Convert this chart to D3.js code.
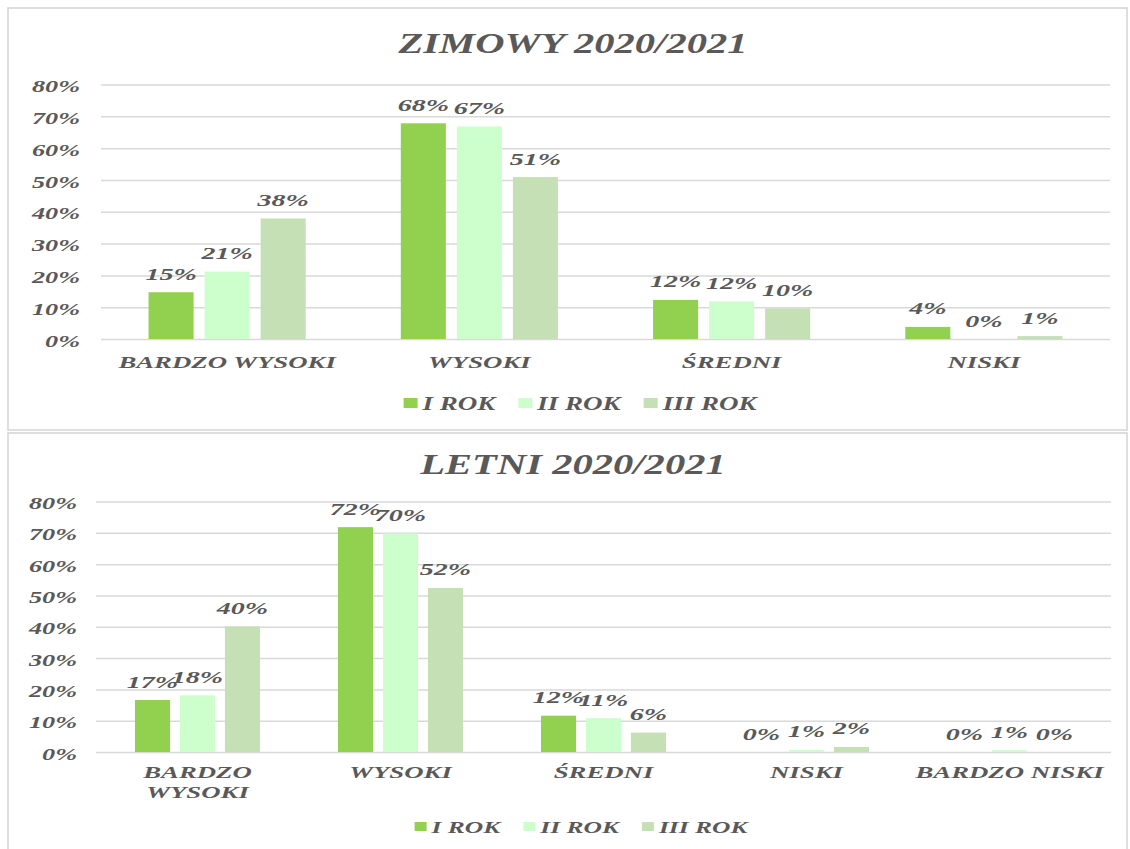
<!DOCTYPE html>
<html lang="pl">
<head>
  <meta charset="UTF-8">
  <title>ZIMOWY / LETNI 2020/2021</title>
  <script src="https://cdn.jsdelivr.net/npm/d3@7"></script>
  <style>
    html, body { margin: 0; padding: 0; background: #fff; }
    svg text {
      font-family: "Liberation Serif", "Times New Roman", serif;
      font-weight: bold;
      font-style: italic;
      fill: #595959;
    }
  </style>
</head>
<body>

  <script>
    ((window, document) => {
      "use strict";


      /**
       * -----------------------------------------------------------------------
       *  Data
       * -----------------------------------------------------------------------
       */

      const series = ["I ROK", "II ROK", "III ROK"];
      const yTicks = [0, 10, 20, 30, 40, 50, 60, 70, 80];

      // ZIMOWY 2020/2021 (values in %)
      const zimaCategories = ["BARDZO WYSOKI", "WYSOKI", "ŚREDNI", "NISKI"];
      const zimaI   = [14.7, 67.8, 12.3, 3.8];
      const zimaII  = [21.2, 66.8, 11.8, 0];
      const zimaIII = [37.9, 50.9, 9.6, 0.9];

      // LETNI 2020/2021 (values in %)
      const letniCategories = ["BARDZO WYSOKI", "WYSOKI", "ŚREDNI", "NISKI", "BARDZO NISKI"];
      const letniI   = [16.6, 71.8, 11.6, 0, 0];
      const letniII  = [18.1, 69.8, 10.8, 0.7, 0.6];
      const letniIII = [40.1, 52.4, 6.2, 1.6, 0];


      /**
       * -----------------------------------------------------------------------
       *  Render
       * -----------------------------------------------------------------------
       */

      const colors = ["#92d050", "#ccffcc", "#c5e0b4"];

      let svg = d3.select("body").append("svg")
        .attr("width", 1130).attr("height", 849);

      // the source picture is stretched sideways, so every text gets a scale
      function place (sel, x, y, sx) {
        return sel.attr("transform", `translate(${x},${y}) scale(${sx},1)`);
      }

      function drawChart (cfg) {
        let g = svg.append("g");

        g.append("rect")
            .attr("x", cfg.box[0]).attr("y", cfg.box[1])
            .attr("width", cfg.box[2]).attr("height", cfg.box[3])
            .attr("fill", "#fff").attr("stroke", "#d4d4d4").attr("stroke-width", 1.5);

        place(g.append("text"), cfg.titleX, cfg.titleY, 1.4)
            .attr("text-anchor", "middle")
            .style("font-size", "29px")
            .text(cfg.title);

        let x0 = d3.scaleBand()
          .domain(cfg.categories)
          .range([cfg.left, cfg.right])
          .paddingInner(cfg.groupPad).paddingOuter(cfg.groupPad / 2);

        let x1 = d3.scaleBand()
          .domain(series)
          .range([0, x0.bandwidth()])
          .paddingInner(cfg.barPad);

        let y = d3.scaleLinear().domain([0, 80]).range([cfg.bottom, cfg.top]);

        // grid + y labels
        let axis = g.append("g")
            .attr("transform", `translate(${cfg.left},0)`)
            .call(d3.axisLeft(y)
              .tickValues(yTicks)
              .tickSize(-(cfg.right - cfg.left))
              .tickFormat(d => d + "%"));
        axis.select(".domain").remove();
        axis.selectAll(".tick line").attr("stroke", "#d9d9d9").attr("stroke-width", 1.5);
        axis.selectAll(".tick text")
            .attr("x", null).attr("dy", "0.35em")
            .attr("text-anchor", "end")
            .style("font-size", "17.5px")
            .each((d, i, n) => place(d3.select(n[i]), -cfg.tickGap, 1, 1.5));

        // bars
        let rows = cfg.categories.map((c, i) => ({
          cat: c,
          vals: series.map((s, j) => ({ s: s, v: cfg.values[j][i], color: colors[j] }))
        }));

        let groups = g.selectAll("g.cat")
          .data(rows)
          .enter().append("g")
            .attr("class", "cat")
            .attr("transform", d => `translate(${x0(d.cat)},0)`);

        groups.selectAll("rect")
          .data(d => d.vals)
          .enter().append("rect")
            .attr("x", d => x1(d.s))
            .attr("y", d => y(d.v))
            .attr("width", x1.bandwidth())
            .attr("height", d => cfg.bottom - y(d.v))
            .attr("fill", d => d.color);

        groups.selectAll("text.val")
          .data(d => d.vals)
          .enter().append("text")
            .attr("class", "val")
            .attr("text-anchor", "middle")
            .style("font-size", "17px")
            .text(d => Math.round(d.v) + "%")
            .each((d, i, n) => place(d3.select(n[i]), x1(d.s) + x1.bandwidth() / 2, y(d.v) - 12.5, 1.65));

        // category labels, wrapped when wider than the band
        const catSx = 1.53;
        g.selectAll("text.cat")
          .data(cfg.categories)
          .enter().append("text")
            .attr("class", "cat")
            .attr("text-anchor", "middle")
            .style("font-size", "17.5px")
            .each((d, i, n) => {
              let t = d3.select(n[i]);
              place(t, x0(d) + x0.bandwidth() / 2, cfg.bottom + cfg.catGap, catSx);
              t.text(d);
              if (n[i].getComputedTextLength() * catSx > x0.step()) {
                t.text(null);
                d.split(" ").forEach((w, k) => {
                  t.append("tspan").attr("x", 0).attr("dy", k ? 20 : 0).text(w);
                });
              }
            });

        // legend
        let legend = g.append("g");
        let cursor = 0;
        series.forEach((s, j) => {
          legend.append("rect")
              .attr("x", cursor).attr("y", -cfg.legendSq[1] - 2)
              .attr("width", cfg.legendSq[0]).attr("height", cfg.legendSq[1])
              .attr("fill", colors[j]);
          cursor += cfg.legendSq[0] + 5;
          let t = place(legend.append("text"), cursor, 0, 1.5)
              .style("font-size", cfg.legendFont + "px")
              .text(s);
          cursor += t.node().getComputedTextLength() * 1.5;
          if (j < series.length - 1) cursor += 23;
        });
        legend.attr("transform", `translate(${cfg.legendCx - cursor / 2},${cfg.legendY})`);
      }


      /**
       * -----------------------------------------------------------------------
       *  Main
       * -----------------------------------------------------------------------
       */

      drawChart({
        box: [8, 8, 1119, 422],
        title: "ZIMOWY 2020/2021", titleX: 573, titleY: 53,
        categories: zimaCategories,
        values: [zimaI, zimaII, zimaIII],
        left: 101, right: 1110, top: 84.5, bottom: 339,
        groupPad: 0.377, barPad: 0.196,
        tickGap: 21, catGap: 29,
        legendCx: 580, legendY: 410, legendSq: [14, 10], legendFont: 18
      });

      drawChart({
        box: [8, 433, 1119, 430],
        title: "LETNI 2020/2021", titleX: 573, titleY: 474,
        categories: letniCategories,
        values: [letniI, letniII, letniIII],
        left: 96, right: 1111, top: 501.5, bottom: 752,
        groupPad: 0.384, barPad: 0.22,
        tickGap: 19, catGap: 26,
        legendCx: 581, legendY: 833, legendSq: [12, 9], legendFont: 17
      });

    })(window, document);
  </script>

</body>
</html>
